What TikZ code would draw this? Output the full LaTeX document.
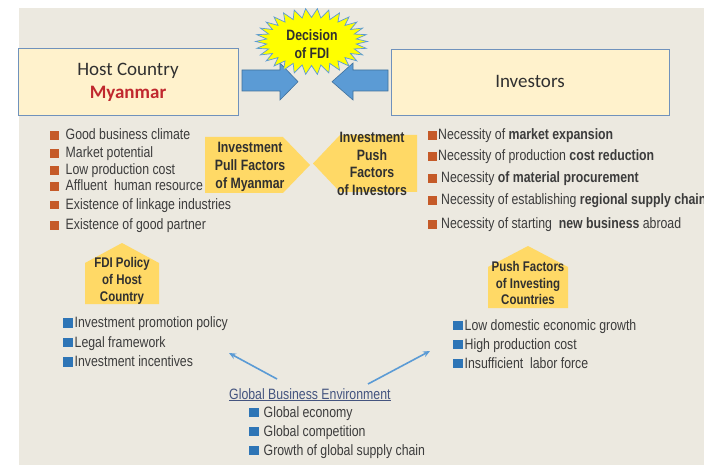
\documentclass[tikz,border=0pt]{standalone}
\usepackage{fontspec}
\setmainfont{Liberation Sans}
\newfontfamily\narrow[FakeStretch=0.82]{Liberation Sans}
\newfontfamily\calfont{Carlito}
\usetikzlibrary{arrows.meta}
\definecolor{bg}{HTML}{ECE9E0}
\definecolor{boxfill}{HTML}{FFF2CC}
\definecolor{boxline}{HTML}{7092BC}
\definecolor{arrblue}{HTML}{5B9BD5}
\definecolor{arrline}{HTML}{41719C}
\definecolor{shapeyel}{HTML}{FFD966}
\definecolor{staryel}{HTML}{FFFF00}
\definecolor{tgray}{HTML}{3C3C3C}
\definecolor{tdark}{HTML}{303030}
\definecolor{myred}{HTML}{C0282E}
\definecolor{bulorange}{HTML}{C55A28}
\definecolor{bulblue}{HTML}{2E75B6}
\definecolor{gbecol}{HTML}{44547F}
\newcommand{\osq}{\textcolor{bulorange}{\rule{9pt}{9pt}}}
\newcommand{\bsq}{\textcolor{bulblue}{\rule{9.5pt}{9.5pt}}}
\begin{document}
\begin{tikzpicture}[x=1pt,y=-1pt,
  titlebox/.style={draw=boxline, fill=boxfill, line width=0.8pt, inner sep=0pt, anchor=north west},
  titletxt/.style={inner sep=0pt, anchor=base, text=tdark, font=\calfont\fontsize{19}{22}\selectfont},
  txt/.style={inner sep=0pt, anchor=base west, text=tgray, font=\narrow\fontsize{15}{18}\selectfont},
  shapetxt/.style={inner sep=0pt, align=center, text=tdark, font=\narrow\bfseries\fontsize{15}{17.8}\selectfont},
  housetxt/.style={inner sep=0pt, align=center, text=tdark, font=\narrow\bfseries\fontsize{14}{16.8}\selectfont},
  blockarrow/.style={fill=arrblue, draw=arrline, line width=0.6pt},
  yshape/.style={fill=shapeyel},
  thinarrow/.style={draw=arrblue, line width=1.6pt, -{Stealth[length=7pt,width=6pt]}}
]
\useasboundingbox (0,0) rectangle (704,465);
\fill[bg] (19,8) rectangle (704,465);

% title boxes
\node[titlebox, minimum width=220pt, minimum height=67pt] (host) at (18,48) {};
\node[titletxt] (hostt) at (128,76) {Host Country};
\node[titletxt, text=myred, font=\calfont\bfseries\fontsize{19}{22}\selectfont] (myan) at (128,99) {Myanmar};
\node[titlebox, minimum width=278pt, minimum height=66pt] (inv) at (391,49) {};
\node[titletxt] (invt) at (530,88) {Investors};

% block arrows
\draw[blockarrow] (242,70) -- (280,70) -- (280,63) -- (298,81.7) -- (280,100) -- (280,91) -- (242,91) -- cycle;
\draw[blockarrow] (388,70) -- (353,70) -- (353,63) -- (332,81.7) -- (353,100) -- (353,91) -- (388,91) -- cycle;

% starburst
\begin{scope}[shift={(311.5,41.5)}]
\draw[fill=staryel, draw=arrblue, line width=0.7pt, line join=miter]
  (0:56 and 33) \foreach \i in {0,...,29}{ -- ({(\i+0.5)*12}:45 and 24) -- ({(\i+1)*12}:56 and 33)} -- cycle;
\end{scope}
\node[shapetxt] (fdi) at (312,44) {Decision\\of FDI};

% pull / push shapes
\fill[yshape] (205,137) -- (283,137) -- (310,165) -- (283,193) -- (205,193) -- cycle;
\node[shapetxt] (pull) at (250,167) {Investment\\Pull Factors\\of Myanmar};
\fill[yshape] (313,163.5) -- (340,135) -- (417,135) -- (417,192) -- (340,192) -- cycle;
\node[shapetxt] (push) at (372,164) {Investment\\Push\\Factors\\of Investors};

% left orange list
\node[txt] (p1) at (50,140) {\osq\hspace{6.5pt}Good business climate};
\node[txt] (p2) at (50,158) {\osq\hspace{6.5pt}Market potential};
\node[txt] (p3) at (50,175) {\osq\hspace{6.5pt}Low production cost};
\node[txt] (p4) at (50,191) {\osq\hspace{6.5pt}Affluent\ \ human resource};
\node[txt] (p5) at (50,209.5) {\osq\hspace{6.5pt}Existence of linkage industries};
\node[txt] (p6) at (50,229.5) {\osq\hspace{6.5pt}Existence of good partner};

% right orange list
\node[txt] (q1) at (428,140) {\osq\hspace{1pt}Necessity of \textbf{market expansion}};
\node[txt] (q2) at (428,161) {\osq\hspace{1pt}Necessity of production \textbf{cost reduction}};
\node[txt] (q3) at (428,183) {\osq\hspace{4pt}Necessity \textbf{of material procurement}};
\node[txt] (q4) at (428,205) {\osq\hspace{4pt}Necessity of establishing \textbf{regional supply chain}};
\node[txt] (q5) at (428,229) {\osq\hspace{4pt}Necessity of starting\ \ \textbf{new business} abroad};

% house shapes
\fill[yshape] (85,304) -- (85,263) -- (122,243) -- (159,263) -- (159,304) -- cycle;
\node[housetxt] (fdipol) at (122,281) {FDI Policy\\of Host\\Country};
\fill[yshape] (488,308) -- (488,267) -- (528,246) -- (568,267) -- (568,308) -- cycle;
\node[housetxt] (pushf) at (528,283) {Push Factors\\of Investing\\Countries};

% blue lists
\node[txt] (h1) at (63,327.5) {\bsq\hspace{2pt}Investment promotion policy};
\node[txt] (h2) at (63,347) {\bsq\hspace{2pt}Legal framework};
\node[txt] (h3) at (63,366.5) {\bsq\hspace{2pt}Investment incentives};
\node[txt] (c1) at (453,330) {\bsq\hspace{2pt}Low domestic economic growth};
\node[txt] (c2) at (453,349) {\bsq\hspace{2pt}High production cost};
\node[txt] (c3) at (453,368) {\bsq\hspace{2pt}Insufficient\ \ labor force};

% global business environment
\node[txt, text=gbecol] (gbe) at (229,399) {\underline{Global Business Environment}};
\node[txt] (g1) at (249,417) {\bsq\hspace{5pt}Global economy};
\node[txt] (g2) at (249,436) {\bsq\hspace{5pt}Global competition};
\node[txt] (g3) at (249,455) {\bsq\hspace{5pt}Growth of global supply chain};

\coordinate (a1s) at (277,379);
\coordinate (a1e) at (229,353);
\coordinate (a2s) at (368,384);
\coordinate (a2e) at (430,351);
\draw[thinarrow] (a1s) -- (a1e);
\draw[thinarrow] (a2s) -- (a2e);
\end{tikzpicture}
\end{document}
